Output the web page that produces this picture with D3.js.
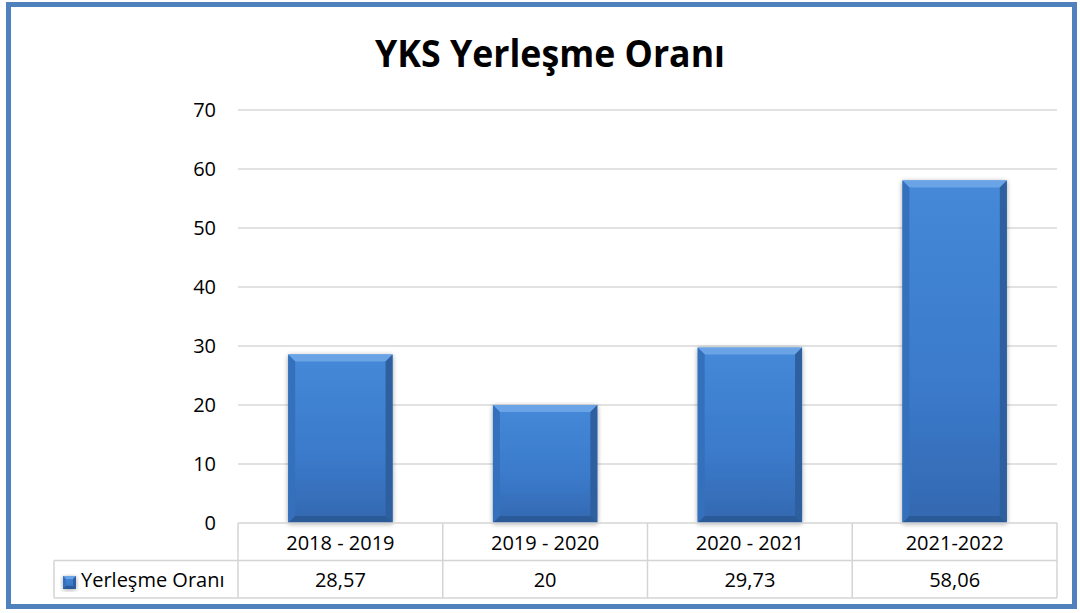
<!DOCTYPE html>
<html>
<head>
<meta charset="utf-8">
<script src="https://cdn.jsdelivr.net/npm/d3@7"></script>
<style>
  body { margin: 0; background: #fff; }
  svg { display: block; font-family: "Open Sans", "Noto Sans", sans-serif; }
</style>
</head>
<body>
<div id="chart"></div>
<script>
// data
var categories = ["2018 - 2019", "2019 - 2020", "2020 - 2021", "2021-2022"];
var values = [28.57, 20, 29.73, 58.06];
var valueLabels = ["28,57", "20", "29,73", "58,06"];
var yTicks = [0, 10, 20, 30, 40, 50, 60, 70];
var seriesName = "Yerleşme Oranı";
var title = "YKS Yerleşme Oranı";

var W = 1080, H = 613;
var plot = {left: 238, right: 1057, top: 110, bottom: 523};
var rowH = 37.5;

var svg = d3.select("#chart")
  .append("svg")
    .attr("width", W)
    .attr("height", H);

var defs = svg.append("defs");
var g1 = defs.append("linearGradient").attr("id", "face")
  .attr("x1", 0).attr("y1", 0).attr("x2", 0).attr("y2", 1);
g1.append("stop").attr("offset", "0%").attr("stop-color", "#4589d8");
g1.append("stop").attr("offset", "60%").attr("stop-color", "#3b7acb");
g1.append("stop").attr("offset", "100%").attr("stop-color", "#3468b0");

var f = defs.append("filter").attr("id", "shadow")
  .attr("x", "-20%").attr("y", "-20%").attr("width", "140%").attr("height", "140%");
f.append("feGaussianBlur").attr("in", "SourceAlpha").attr("stdDeviation", 2.5);
f.append("feOffset").attr("dx", 0).attr("dy", 1).attr("result", "b");
f.append("feComponentTransfer").append("feFuncA").attr("type", "linear").attr("slope", 0.35);
var fm = f.append("feMerge");
fm.append("feMergeNode");
fm.append("feMergeNode").attr("in", "SourceGraphic");

// outer frame
svg.append("rect")
  .attr("x", 8.5).attr("y", 4.5)
  .attr("width", W - 14).attr("height", H - 11)
  .attr("fill", "#fff")
  .attr("stroke", "#4f81bd")
  .attr("stroke-width", 5);

svg.append("text")
  .attr("x", 550).attr("y", 67)
  .attr("text-anchor", "middle")
  .attr("font-size", 38)
  .attr("font-weight", "bold")
  .attr("textLength", 350)
  .attr("lengthAdjust", "spacingAndGlyphs")
  .attr("fill", "#000")
  .text(title);

var x = d3.scaleBand()
  .domain(categories)
  .range([plot.left, plot.right])
  .paddingInner(0.49)
  .paddingOuter(0.245);

var y = d3.scaleLinear()
  .domain([0, 70])
  .range([plot.bottom, plot.top]);

// gridlines
svg.append("g")
  .selectAll("line")
  .data(yTicks.slice(1))
  .enter()
  .append("line")
    .attr("x1", plot.left).attr("x2", plot.right)
    .attr("y1", function (d) { return y(d); })
    .attr("y2", function (d) { return y(d); })
    .attr("stroke", "#d9d9d9")
    .attr("stroke-width", 1.3);

// y axis labels
var yAxis = svg.append("g")
  .attr("transform", "translate(" + 216 + ",0)")
  .call(d3.axisLeft(y).tickValues(yTicks).tickSize(0).tickPadding(0));
yAxis.select(".domain").remove();
yAxis.selectAll("text")
  .attr("font-size", 20)
  .attr("font-family", "'Open Sans', sans-serif")
  .attr("fill", "#000");

// bevelled bars
function bevelBar(sel, bx, by, bw, bh, b) {
  var gg = sel.append("g").attr("filter", "url(#shadow)");
  gg.append("rect").attr("x", bx).attr("y", by).attr("width", bw).attr("height", bh)
    .attr("fill", "url(#face)");
  var pts = function (a) { return a.map(function (p) { return p.join(","); }).join(" "); };
  gg.append("polygon").attr("points", pts([[bx, by], [bx + bw, by], [bx + bw - b, by + b], [bx + b, by + b]]))
    .attr("fill", "#6aa3e6");
  gg.append("polygon").attr("points", pts([[bx, by], [bx + b, by + b], [bx + b, by + bh - b], [bx, by + bh]]))
    .attr("fill", "#3570bd");
  gg.append("polygon").attr("points", pts([[bx + bw, by], [bx + bw, by + bh], [bx + bw - b, by + bh - b], [bx + bw - b, by + b]]))
    .attr("fill", "#2d5f9f");
  gg.append("polygon").attr("points", pts([[bx, by + bh], [bx + b, by + bh - b], [bx + bw - b, by + bh - b], [bx + bw, by + bh]]))
    .attr("fill", "#2b5a98");
}

var bars = svg.append("g");
categories.forEach(function (c, i) {
  bevelBar(bars, x(c), y(values[i]), x.bandwidth(), y(0) - y(values[i]), 7);
});

// data table
var table = svg.append("g");
var colW = (plot.right - plot.left) / categories.length;
var legendLeft = 54;
var lineColor = "#d4d4d4";

table.append("line")
  .attr("x1", plot.left).attr("x2", plot.right)
  .attr("y1", plot.bottom).attr("y2", plot.bottom)
  .attr("stroke", lineColor).attr("stroke-width", 1.5);
table.append("line")
  .attr("x1", legendLeft).attr("x2", plot.right)
  .attr("y1", plot.bottom + rowH).attr("y2", plot.bottom + rowH)
  .attr("stroke", lineColor).attr("stroke-width", 1.5);
table.append("line")
  .attr("x1", legendLeft).attr("x2", plot.right)
  .attr("y1", plot.bottom + 2 * rowH).attr("y2", plot.bottom + 2 * rowH)
  .attr("stroke", lineColor).attr("stroke-width", 1.5);
table.append("line")
  .attr("x1", legendLeft).attr("x2", legendLeft)
  .attr("y1", plot.bottom + rowH).attr("y2", plot.bottom + 2 * rowH)
  .attr("stroke", lineColor).attr("stroke-width", 1.5);
table.selectAll(".vline")
  .data(d3.range(categories.length + 1))
  .enter()
  .append("line")
    .attr("x1", function (d) { return plot.left + d * colW; })
    .attr("x2", function (d) { return plot.left + d * colW; })
    .attr("y1", plot.bottom).attr("y2", plot.bottom + 2 * rowH)
    .attr("stroke", lineColor).attr("stroke-width", 1.5);

table.selectAll(".cat")
  .data(categories)
  .enter()
  .append("text")
    .attr("x", function (d) { return x(d) + x.bandwidth() / 2; })
    .attr("y", plot.bottom + rowH / 2 + 8)
    .attr("text-anchor", "middle")
    .attr("font-size", 20)
    .text(function (d) { return d; });

table.selectAll(".val")
  .data(valueLabels)
  .enter()
  .append("text")
    .attr("x", function (d, i) { return x(categories[i]) + x.bandwidth() / 2; })
    .attr("y", plot.bottom + rowH * 1.5 + 8)
    .attr("text-anchor", "middle")
    .attr("font-size", 20)
    .text(function (d) { return d; });

// legend key + series name
var key = table.append("g");
bevelBar(key, 63, 576, 13, 13, 3);
table.append("text")
  .attr("x", 81).attr("y", plot.bottom + rowH * 1.5 + 8)
  .attr("font-size", 20)
  .text(seriesName);
</script>
</body>
</html>
